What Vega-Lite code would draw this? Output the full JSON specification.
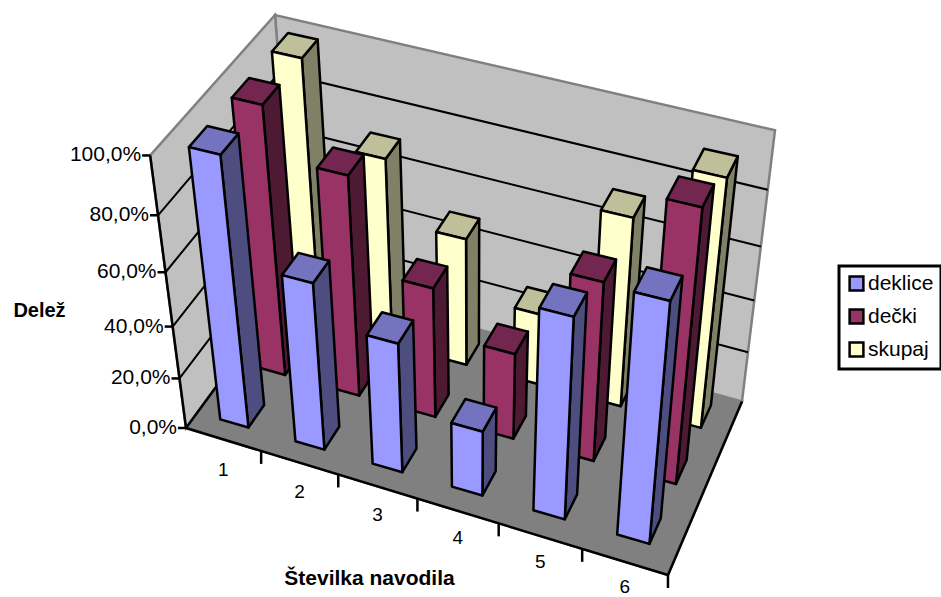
{"$schema":"https://vega.github.io/schema/vega-lite/v6.json","width":941,"height":597,"padding":0,"autosize":{"type":"none"},"background":"white","config":{"view":{"stroke":null},"font":"Liberation Sans"},
"datasets":{"bars":[
{"navodilo":1,"skupina":"skupaj","delez":100},{"navodilo":2,"skupina":"skupaj","delez":71.5},{"navodilo":3,"skupina":"skupaj","delez":49.3},{"navodilo":4,"skupina":"skupaj","delez":27.9},{"navodilo":5,"skupina":"skupaj","delez":71.5},{"navodilo":6,"skupina":"skupaj","delez":92.1},
{"navodilo":1,"skupina":"dečki","delez":100},{"navodilo":2,"skupina":"dečki","delez":82.8},{"navodilo":3,"skupina":"dečki","delez":50},{"navodilo":4,"skupina":"dečki","delez":33.4},{"navodilo":5,"skupina":"dečki","delez":67.6},{"navodilo":6,"skupina":"dečki","delez":100},
{"navodilo":1,"skupina":"deklice","delez":100},{"navodilo":2,"skupina":"deklice","delez":63.5},{"navodilo":3,"skupina":"deklice","delez":49.7},{"navodilo":4,"skupina":"deklice","delez":25.3},{"navodilo":5,"skupina":"deklice","delez":75.3},{"navodilo":6,"skupina":"deklice","delez":88.5}]},
"encoding":{"x":{"field":"px","type":"quantitative","scale":{"domain":[0,941],"nice":false,"zero":false},"axis":{"domain":false,"ticks":false,"labels":false,"grid":false,"title":"Številka navodila","titleFont":"Liberation Sans","titleFontSize":21,"titleFontWeight":"bold","titleColor":"black","titleX":369,"titleY":-19,"titleAlign":"center","titleBaseline":"middle"}},
"y":{"field":"py","type":"quantitative","scale":{"domain":[0,597],"reverse":true,"nice":false,"zero":false},"axis":{"domain":false,"ticks":false,"labels":false,"grid":false,"title":"Delež","titleFont":"Liberation Sans","titleFontSize":20,"titleFontWeight":"bold","titleColor":"black","titleAngle":0,"titleX":39,"titleY":310,"titleAlign":"center","titleBaseline":"middle"}}},
"layer":[
{"data":{"values":[{"ploskev":"floor"},{"ploskev":"back"},{"ploskev":"left"}]},
"transform":[{"calculate":"[0,1,2,3]","as":"t"},{"flatten":["t"]},
{"calculate":"(datum.t==1||datum.t==2)?1:0","as":"u"},{"calculate":"datum.t>=2?1:0","as":"v"},
{"calculate":"datum.ploskev=='left'?0:datum.u","as":"wx"},
{"calculate":"datum.ploskev=='back'?1:(datum.ploskev=='left'?datum.u:datum.v)","as":"wy"},
{"calculate":"datum.ploskev=='floor'?0:datum.v","as":"wz"},
{"calculate":"1-0.0763*datum.wx+0.0913*datum.wy-0.111*datum.wz","as":"w"},
{"calculate":"(186+431*datum.wx+136.1*datum.wy-52.5*datum.wz)/datum.w","as":"px"},
{"calculate":"(428+103.1*datum.wx-123.5*datum.wy-289.8*datum.wz)/datum.w","as":"py"}],
"mark":{"type":"line","interpolate":"linear-closed","stroke":"#808080","strokeWidth":2.5},
"encoding":{"detail":{"field":"ploskev"},"order":{"field":"t"},"fill":{"field":"ploskev","type":"nominal","legend":null,"scale":{"domain":["floor","back","left"],"range":["#808080","#C0C0C0","#C0C0C0"]}}}},
{"data":{"values":[{"delez":20},{"delez":40},{"delez":60},{"delez":80}]},
"transform":[{"calculate":"[0,1,2]","as":"t"},{"flatten":["t"]},
{"calculate":"datum.t==2?1:0","as":"wx"},{"calculate":"datum.t>=1?1:0","as":"wy"},{"calculate":"datum.delez/100","as":"wz"},
{"calculate":"1-0.0763*datum.wx+0.0913*datum.wy-0.111*datum.wz","as":"w"},
{"calculate":"(186+431*datum.wx+136.1*datum.wy-52.5*datum.wz)/datum.w","as":"px"},
{"calculate":"(428+103.1*datum.wx-123.5*datum.wy-289.8*datum.wz)/datum.w","as":"py"}],
"mark":{"type":"line","stroke":"black","strokeWidth":2},
"encoding":{"detail":{"field":"delez"},"order":{"field":"t"}}},
{"data":{"values":[{"rob":"os"},{"rob":"spredaj"},{"rob":"desno"},{"rob":"levo"}]},
"transform":[{"calculate":"[0,1]","as":"t"},{"flatten":["t"]},
{"calculate":"datum.rob=='desno'?1:(datum.rob=='spredaj'?datum.t:0)","as":"wx"},
{"calculate":"(datum.rob=='desno'||datum.rob=='levo')?datum.t:0","as":"wy"},
{"calculate":"datum.rob=='os'?datum.t:0","as":"wz"},
{"calculate":"1-0.0763*datum.wx+0.0913*datum.wy-0.111*datum.wz","as":"w"},
{"calculate":"(186+431*datum.wx+136.1*datum.wy-52.5*datum.wz)/datum.w","as":"px"},
{"calculate":"(428+103.1*datum.wx-123.5*datum.wy-289.8*datum.wz)/datum.w","as":"py"}],
"mark":{"type":"line","stroke":"black","strokeWidth":2.5},
"encoding":{"detail":{"field":"rob"},"order":{"field":"t"}}},
{"data":{"values":[{"delez":0},{"delez":20},{"delez":40},{"delez":60},{"delez":80},{"delez":100}]},
"transform":[{"calculate":"datum.delez/100","as":"wz"},
{"calculate":"1-0.111*datum.wz","as":"w"},
{"calculate":"(186-52.5*datum.wz)/datum.w","as":"px"},
{"calculate":"(428-289.8*datum.wz)/datum.w","as":"py"},
{"calculate":"datum.px-8","as":"px2"}],
"mark":{"type":"rule","stroke":"black","strokeWidth":2.5},
"encoding":{"x2":{"field":"px2"}}},
{"data":{"values":[{"delez":0},{"delez":20},{"delez":40},{"delez":60},{"delez":80},{"delez":100}]},
"transform":[{"calculate":"datum.delez/100","as":"wz"},
{"calculate":"1-0.111*datum.wz","as":"w"},
{"calculate":"(186-52.5*datum.wz)/datum.w","as":"px"},
{"calculate":"(428-289.8*datum.wz)/datum.w","as":"py"},
{"calculate":"replace(format(datum.delez,'.1f'),'.',',')+'%'","as":"oznaka"}],
"mark":{"type":"text","align":"right","baseline":"middle","dx":-9,"fontSize":21,"font":"Liberation Sans","color":"black"},
"encoding":{"text":{"field":"oznaka"}}},
{"data":{"values":[{"navodilo":1},{"navodilo":2},{"navodilo":3},{"navodilo":4},{"navodilo":5},{"navodilo":6}]},
"transform":[{"calculate":"datum.navodilo/6","as":"wx"},
{"calculate":"1-0.0763*datum.wx","as":"w"},
{"calculate":"(186+431*datum.wx)/datum.w","as":"px"},
{"calculate":"(428+103.1*datum.wx)/datum.w","as":"py"},
{"calculate":"datum.py+13","as":"py2"}],
"mark":{"type":"rule","stroke":"black","strokeWidth":2.5},
"encoding":{"y2":{"field":"py2"}}},
{"data":{"values":[{"navodilo":1},{"navodilo":2},{"navodilo":3},{"navodilo":4},{"navodilo":5},{"navodilo":6}]},
"transform":[{"calculate":"(datum.navodilo-0.5)/6","as":"wx"},
{"calculate":"1-0.0763*datum.wx","as":"w"},
{"calculate":"(186+431*datum.wx)/datum.w","as":"px"},
{"calculate":"(428+103.1*datum.wx)/datum.w+31-6*datum.wx","as":"py"}],
"mark":{"type":"text","align":"center","baseline":"middle","fontSize":19,"font":"Liberation Sans","color":"black"},
"encoding":{"text":{"field":"navodilo"}}},
{"data":{"name":"bars"},
"transform":[{"calculate":"['side','top','front']","as":"ploskev"},{"flatten":["ploskev"]},{"calculate":"[0,1,2,3]","as":"t"},{"flatten":["t"]},
{"calculate":"(datum.t==1||datum.t==2)?1:0","as":"u"},{"calculate":"datum.t>=2?1:0","as":"v"},
{"calculate":"datum.ploskev=='side'?1:datum.u","as":"fx"},
{"calculate":"datum.ploskev=='front'?0:(datum.ploskev=='side'?datum.u:datum.v)","as":"fy"},
{"calculate":"datum.ploskev=='top'?1:datum.v","as":"fz"},
{"calculate":"(datum.navodilo-1)/6+0.052+0.063*datum.fx","as":"wx"},
{"calculate":"(datum.skupina=='deklice'?0:(datum.skupina=='skupaj'?2:1))/3+0.095+0.14*datum.fy","as":"wy"},
{"calculate":"datum.fz*datum.delez/100+0.022*datum.wx","as":"wz"},
{"calculate":"1-0.0763*datum.wx+0.0913*datum.wy-0.111*datum.wz","as":"w"},
{"calculate":"(186+431*datum.wx+136.1*datum.wy-52.5*datum.wz)/datum.w","as":"px"},
{"calculate":"(428+103.1*datum.wx-123.5*datum.wy-289.8*datum.wz)/datum.w","as":"py"},
{"calculate":"datum.skupina+' '+datum.ploskev","as":"kljuc"},
{"calculate":"datum.navodilo+' '+datum.kljuc","as":"lik"}],
"mark":{"type":"line","interpolate":"linear-closed","stroke":"black","strokeWidth":2.5,"strokeJoin":"round"},
"encoding":{"detail":{"field":"lik"},"order":{"field":"t"},"fill":{"field":"kljuc","type":"nominal","legend":null,"scale":{"domain":["deklice front","deklice side","deklice top","dečki front","dečki side","dečki top","skupaj front","skupaj side","skupaj top"],"range":["#9999FF","#4D4D80","#7373BF","#993366","#4D1933","#732650","#FFFFCC","#808066","#BFBF99"]}}}},
{"data":{"name":"bars"},
"transform":[{"calculate":"0","as":"px"},{"calculate":"0","as":"py"}],
"mark":{"type":"square","size":0,"opacity":0},
"encoding":{"color":{"field":"skupina","type":"nominal","scale":{"domain":["deklice","dečki","skupaj"],"range":["#9999FF","#993366","#FFFFCC"]},"legend":{"title":null,"orient":"none","legendX":839,"legendY":266,"padding":7,"strokeColor":"black","fillColor":"white","symbolType":"square","symbolSize":190,"symbolStrokeColor":"black","symbolStrokeWidth":2.5,"symbolOpacity":1,"labelFontSize":21,"labelFont":"Liberation Sans","labelColor":"black","labelOpacity":1,"rowPadding":8,"labelOffset":1,"symbolOffset":0,"encode":{"legend":{"update":{"strokeWidth":{"value":3}}}}}}}}
],
"resolve":{"scale":{"fill":"independent"}}}
